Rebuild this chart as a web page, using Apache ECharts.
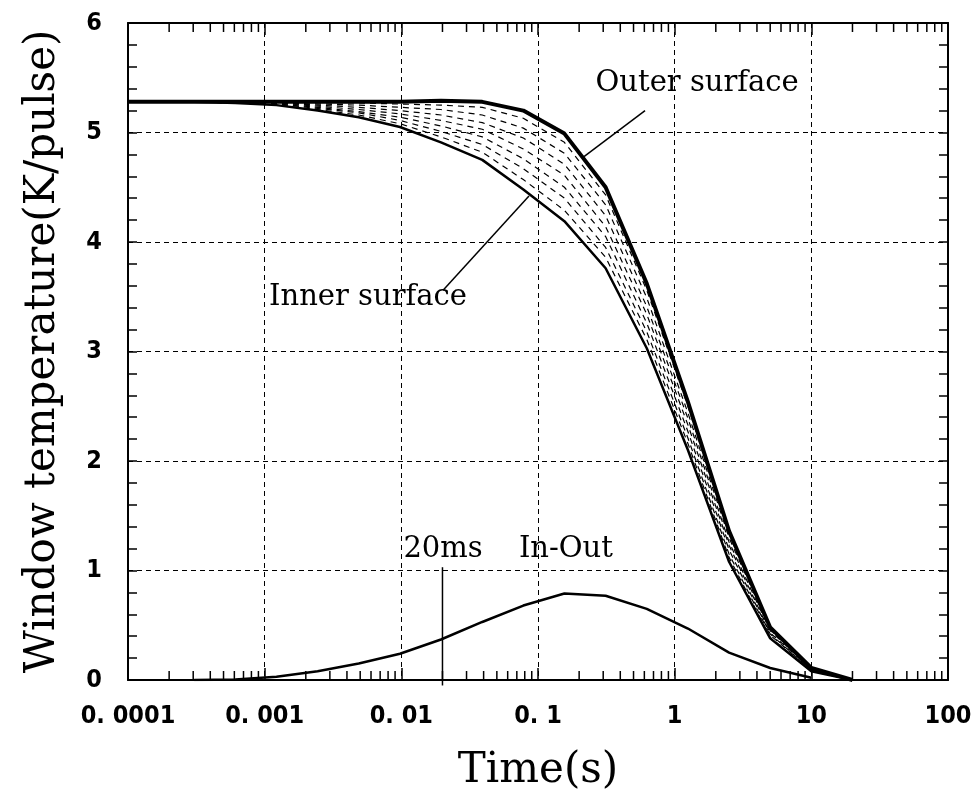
<!DOCTYPE html>
<html><head><meta charset="utf-8">
<script src="https://cdn.jsdelivr.net/npm/echarts@6/dist/echarts.min.js"></script>
<style>html,body{margin:0;padding:0;background:#fff}#c{width:980px;height:797px}</style>
</head><body><div id="c"></div>
<script>
// ---- data ----
const times = [0.0001, 0.000305, 0.00061, 0.00122, 0.00244, 0.00488, 0.00977, 0.0195, 0.0391, 0.0781, 0.156, 0.3125, 0.625, 1.25, 2.5, 5, 10, 20];
const outerSurface = [5.28, 5.28, 5.28, 5.28, 5.28, 5.28, 5.28, 5.29, 5.28, 5.20, 4.99, 4.50, 3.62, 2.54, 1.36, 0.48, 0.11, 0.0];
const innerSurface = [5.28, 5.28, 5.27, 5.25, 5.20, 5.14, 5.05, 4.91, 4.75, 4.48, 4.19, 3.76, 3.03, 2.10, 1.08, 0.38, 0.08, 0.0];
const depth1 = [5.28, 5.28, 5.28, 5.28, 5.27, 5.27, 5.26, 5.25, 5.23, 5.13, 4.91, 4.43, 3.56, 2.50, 1.33, 0.47, 0.11, 0.0];
const depth2 = [5.28, 5.28, 5.28, 5.27, 5.26, 5.25, 5.23, 5.21, 5.16, 5.04, 4.81, 4.34, 3.49, 2.44, 1.30, 0.46, 0.10, 0.0];
const depth3 = [5.28, 5.28, 5.28, 5.27, 5.25, 5.23, 5.20, 5.16, 5.09, 4.95, 4.71, 4.24, 3.41, 2.39, 1.26, 0.45, 0.10, 0.0];
const depth4 = [5.28, 5.28, 5.28, 5.27, 5.24, 5.21, 5.17, 5.11, 5.03, 4.85, 4.61, 4.14, 3.34, 2.33, 1.23, 0.43, 0.10, 0.0];
const depth5 = [5.28, 5.28, 5.27, 5.26, 5.23, 5.19, 5.14, 5.06, 4.96, 4.76, 4.50, 4.05, 3.26, 2.27, 1.19, 0.42, 0.09, 0.0];
const depth6 = [5.28, 5.28, 5.27, 5.26, 5.22, 5.18, 5.11, 5.01, 4.89, 4.67, 4.40, 3.95, 3.18, 2.21, 1.15, 0.41, 0.09, 0.0];
const depth7 = [5.28, 5.28, 5.27, 5.25, 5.21, 5.16, 5.08, 4.96, 4.82, 4.57, 4.29, 3.86, 3.11, 2.16, 1.12, 0.39, 0.08, 0.0];
const inOutTimes = [0.000305, 0.00061, 0.00122, 0.00244, 0.00488, 0.00977, 0.0195, 0.0391, 0.0781, 0.156, 0.3125, 0.625, 1.25, 2.5, 5, 10];
const inOut = [0.0, 0.005, 0.03, 0.08, 0.15, 0.24, 0.37, 0.53, 0.68, 0.79, 0.77, 0.65, 0.47, 0.25, 0.11, 0.02];
const xTickLabels = ['0. 0001', '0. 001', '0. 01', '0. 1', '1', '10', '100'];
const yTickLabels = ['0', '1', '2', '3', '4', '5', '6'];
const xMin = 0.0001, xMax = 100, yMin = 0, yMax = 6;
const minorMultipliers = [2, 3, 4, 5, 6, 7, 8, 9];
const decades = [0.0001, 0.001, 0.01, 0.1, 1, 10];
// annotations (data coordinates)
const outerLeader = [[0.607, 5.20], [0.217, 4.78]];
const innerLeader = [[0.0859, 4.42], [0.0202, 3.56]];
const marker20ms = [[0.02, 1.03], [0.02, -0.05]];
const textNotes = [
  {name: 'Outer surface', pos: [1.46, 5.45]},
  {name: 'Inner surface', pos: [0.0057, 3.49]},
  {name: '20ms', pos: [0.0202, 1.19]},
  {name: 'In-Out', pos: [0.160, 1.19]}
];

// ---- build ----
const minorTicks = [];
decades.forEach(d => minorMultipliers.forEach(m => minorTicks.push([d * m, 0])));
const pair = (xs, ys) => xs.map((x, i) => [x, ys[i]]);

const serif = 'DejaVu Serif';
const tickFont = {fontFamily: '"Liberation Sans Narrow","DejaVu Sans Condensed",sans-serif', fontWeight: 'bold', fontSize: 25, color: '#000'};
const black = '#000';
const dashGrid = {show: true, lineStyle: {color: black, width: 1, type: [5, 4]}};

const lineSeries = (data, width, type) => ({
  type: 'line', data, showSymbol: false, symbol: 'none', silent: true,
  lineStyle: {color: black, width, type: type || 'solid'}, z: 3
});

const depthSeries = [depth1, depth2, depth3, depth4, depth5, depth6, depth7].map(d => lineSeries(pair(times, d), 1.2, [6, 5]));

const option = {
  animation: false,
  backgroundColor: '#fff',
  grid: {left: 128, right: 32, top: 23, bottom: 111},
  xAxis: [{
    type: 'log', logBase: 10, min: xMin, max: xMax, position: 'bottom',
    axisLine: {show: true, onZero: false, lineStyle: {color: black, width: 2}},
    axisTick: {show: true, inside: true, length: 12, lineStyle: {color: black, width: 1.5}},
    minorTick: {show: false},
    splitLine: dashGrid,
    axisLabel: Object.assign({margin: 24, formatter: v => xTickLabels[Math.round(Math.log10(v)) + 4] || ''}, tickFont),
    name: 'Time(s)', nameLocation: 'middle', nameGap: 70,
    nameTextStyle: {fontFamily: serif, fontSize: 42, color: black}
  }, {
    type: 'log', logBase: 10, min: xMin, max: xMax, position: 'top',
    axisLine: {show: true, onZero: false, lineStyle: {color: black, width: 2}},
    axisTick: {show: true, inside: true, length: 12, lineStyle: {color: black, width: 1.5}},
    splitLine: {show: false}, axisLabel: {show: false}
  }],
  yAxis: [{
    type: 'value', min: yMin, max: yMax, interval: 1, position: 'left',
    axisLine: {show: true, onZero: false, lineStyle: {color: black, width: 2}},
    axisTick: {show: true, inside: true, length: 9, lineStyle: {color: black, width: 1.5}},
    minorTick: {show: true, splitNumber: 5, length: 9, lineStyle: {color: black, width: 1.5}},
    splitLine: dashGrid,
    axisLabel: Object.assign({margin: 26, formatter: v => yTickLabels[Math.round(v)]}, tickFont),
    name: 'Window temperature(K/pulse)', nameLocation: 'middle', nameGap: 64, nameRotate: 90,
    nameTextStyle: {fontFamily: serif, fontSize: 42, color: black}
  }, {
    type: 'value', min: yMin, max: yMax, interval: 1, position: 'right',
    axisLine: {show: true, onZero: false, lineStyle: {color: black, width: 2}},
    axisTick: {show: true, inside: true, length: 9, lineStyle: {color: black, width: 1.5}},
    minorTick: {show: true, splitNumber: 5, length: 9, lineStyle: {color: black, width: 1.5}},
    splitLine: {show: false}, axisLabel: {show: false}
  }],
  series: [
    ...depthSeries,
    lineSeries(pair(times, innerSurface), 2.5),
    lineSeries(pair(times, outerSurface), 4),
    lineSeries(pair(inOutTimes, inOut), 2.5),
    lineSeries(outerLeader, 1.5),
    lineSeries(innerLeader, 1.5),
    Object.assign(lineSeries(marker20ms, 1.5), {clip: false}),
    {
      type: 'custom', clip: false, silent: true, z: 5,
      data: minorTicks,
      renderItem: (params, api) => {
        const v = api.value(0);
        const b = api.coord([v, yMin]);
        const t = api.coord([v, yMax]);
        const L = 9;
        return {type: 'group', children: [
          {type: 'line', shape: {x1: b[0], y1: b[1], x2: b[0], y2: b[1] - L}, style: {stroke: black, lineWidth: 1.5}},
          {type: 'line', shape: {x1: t[0], y1: t[1], x2: t[0], y2: t[1] + L}, style: {stroke: black, lineWidth: 1.5}}
        ]};
      }
    },
    {
      type: 'scatter', symbolSize: 0, silent: true, z: 6,
      itemStyle: {color: black, opacity: 1},
      data: textNotes.map(n => ({name: n.name, value: n.pos})),
      label: {show: true, position: [0, 0], formatter: p => p.name,
        fontFamily: serif, fontSize: 29, color: black, opacity: 1, align: 'center', verticalAlign: 'middle'}
    }
  ]
};
const chart = echarts.init(document.getElementById('c'));
chart.setOption(option);
</script>
</body></html>
